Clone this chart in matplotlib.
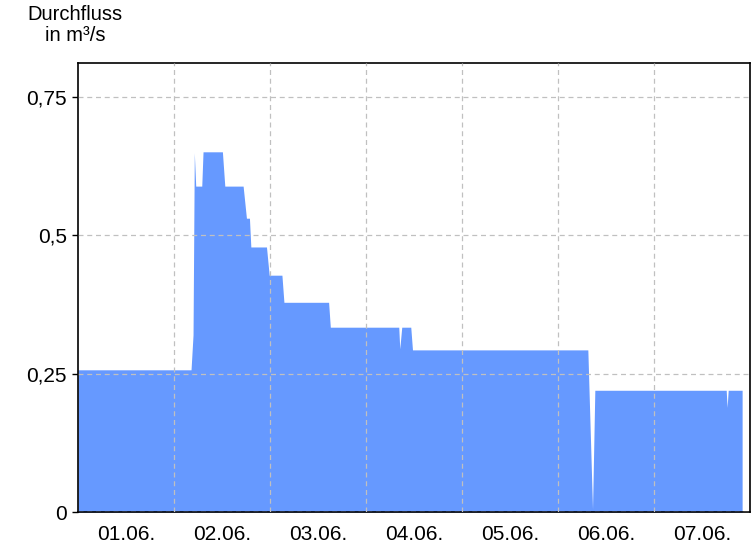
import matplotlib
matplotlib.use("Agg")
import matplotlib.pyplot as plt
from matplotlib.ticker import FixedLocator, FuncFormatter

# Hours since 01.06. 00:00 and discharge in m³/s
hours = [0.0, 28.26, 28.76, 29.08, 29.43, 30.94, 31.26, 36.10, 36.70, 41.28,
         42.11, 42.86, 43.21, 47.12, 47.80, 50.98, 51.48, 62.65, 63.08, 80.19,
         80.44, 80.94, 83.19, 83.62, 127.46, 128.63, 129.21, 162.05, 162.28,
         162.55, 166.03]
flow = [0.257, 0.257, 0.320, 0.649, 0.589, 0.589, 0.651, 0.651, 0.589, 0.589,
        0.531, 0.531, 0.479, 0.479, 0.428, 0.428, 0.379, 0.379, 0.334, 0.334,
        0.295, 0.334, 0.334, 0.293, 0.293, 0.005, 0.220, 0.220, 0.189,
        0.220, 0.220]

day_labels = ["01.06.", "02.06.", "03.06.", "04.06.", "05.06.", "06.06.", "07.06."]
y_ticks = [0, 0.25, 0.5, 0.75]

plt.rcParams['font.family'] = ['Liberation Sans', 'DejaVu Sans']

fig = plt.figure(figsize=(7.56, 5.46), dpi=100)
ax = fig.add_axes([78/756, 34/546, 672/756, 449/546])

days = [h / 24.0 for h in hours]
ax.fill_between(days, flow, 0, color='#6699FF', linewidth=0)

ax.set_xlim(0, 7)
ax.set_ylim(0, 0.8115)

ax.xaxis.set_major_locator(FixedLocator(range(1, 7)))
ax.xaxis.set_minor_locator(FixedLocator([i + 0.5 for i in range(7)]))
ax.xaxis.set_major_formatter(FuncFormatter(lambda v, p: ""))
ax.xaxis.set_minor_formatter(FuncFormatter(lambda v, p: day_labels[int(v)] if 0 <= int(v) < 7 else ""))
ax.tick_params(axis='x', which='both', length=0, labelsize=15, pad=9)

ax.yaxis.set_major_locator(FixedLocator(y_ticks))
ax.yaxis.set_major_formatter(FuncFormatter(lambda v, p: ("%g" % v).replace('.', ',')))
ax.tick_params(axis='y', which='major', length=4, width=1, labelsize=15, pad=4)

ax.grid(True, which='major', axis='both', color='#c0c0c0', linestyle=(0, (4, 3)), linewidth=0.9)
ax.set_axisbelow(False)
for s in ax.spines.values():
    s.set_linewidth(1.2)
    s.set_color('black')

fig.text(75/756, 1 - 5/546, "Durchfluss\nin m³/s", ha='center', va='top',
         fontsize=14.5, linespacing=1.12)

fig.savefig("out.png", dpi=100)
